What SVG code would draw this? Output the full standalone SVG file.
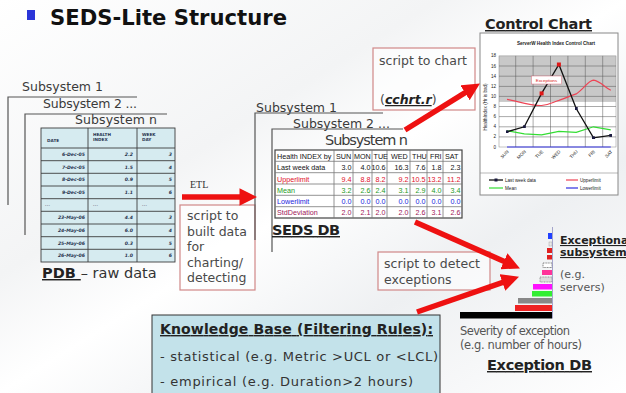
<svg xmlns="http://www.w3.org/2000/svg" width="626" height="393" viewBox="0 0 626 393">
<defs>
<linearGradient id="bg" x1="0" y1="0" x2="1" y2="1">
<stop offset="0" stop-color="#ffffff"/>
<stop offset="0.35" stop-color="#f3f4f5"/>
<stop offset="0.5" stop-color="#ffffff"/>
<stop offset="0.7" stop-color="#eef0f2"/>
<stop offset="1" stop-color="#ffffff"/>
</linearGradient>
<marker id="ah" viewBox="0 0 10 10" refX="2" refY="5" markerWidth="3.2" markerHeight="3.2" orient="auto" markerUnits="strokeWidth">
<path d="M0,0 L10,5 L0,10 z" fill="#ee1111"/>
</marker>
<marker id="mk" viewBox="0 0 10 10" refX="5" refY="5" markerWidth="3" markerHeight="3" markerUnits="userSpaceOnUse">
<rect x="0" y="0" width="10" height="10" fill="#1a1a40"/>
</marker>
</defs>
<style>
text{font-family:"DejaVu Sans",Verdana,sans-serif;fill:#333}
.sub{font-size:12.5px;fill:#3a3a3a}
.frame{fill:none;stroke:#555;stroke-width:1.2}
.box{fill:#fff;fill-opacity:0.6;stroke:#d08888;stroke-width:1.2}
.bt{font-size:12.5px;fill:#4a4a4a}
.hd{font-weight:bold;text-decoration:underline;fill:#222}
.arr{stroke:#ee1111;stroke-width:5.5;fill:none;marker-end:url(#ah)}
.pc{fill:#d6ebf0;stroke:#3c3c3c;stroke-width:0.9}
.pv{font-size:4.6px;font-weight:bold;font-style:italic;fill:#2a3550}
.ph{font-size:4.2px;font-weight:bold;fill:#2a3550}
.sc{fill:#fff;stroke:#777;stroke-width:0.8}
.sv{font-family:"Liberation Sans",Arial,sans-serif;font-size:7.2px;text-anchor:end;fill:#111}
.sl{font-family:"Liberation Sans",Arial,sans-serif;font-size:7.2px;fill:#111}
.ct{font-family:"Liberation Sans",Arial,sans-serif;font-size:4.6px;fill:#222}
.grid{stroke:#555;stroke-width:0.5}
.gt{font-size:11.5px;fill:#555}
</style>
<rect width="626" height="393" fill="url(#bg)"/>

<g id="title">
<rect x="27" y="10" width="8" height="10" fill="#2b35d8"/>
<text x="50" y="25" font-size="21" font-weight="bold" style="fill:#111" textLength="237" lengthAdjust="spacingAndGlyphs">SEDS-Lite Structure</text>
</g>

<g id="pdb">
<text class="sub" x="22" y="91" textLength="81">Subsystem 1</text>
<path class="frame" d="M8,205 V97 H137"/>
<text class="sub" x="43" y="108" textLength="94">Subsystem 2 ...</text>
<path class="frame" d="M25,235 V114 H167"/>
<text class="sub" x="75" y="124" textLength="82">Subsystem n</text>
<g id="pdb-table">
<rect class="pc" x="41" y="128" width="134" height="134"/>
<path d="M88,128 V262 M137,128 V262 M41,148 H175 M41,160.7 H175 M41,173.3 H175 M41,186 H175 M41,198.7 H175 M41,211.3 H175 M41,224 H175 M41,236.7 H175 M41,249.3 H175" stroke="#3c3c3c" stroke-width="0.9"/>
<text class="ph" x="47" y="142">DATE</text>
<text class="ph" x="93" y="136">HEALTH</text>
<text class="ph" x="93" y="141">INDEX</text>
<text class="ph" x="142" y="136">WEEK</text>
<text class="ph" x="142" y="141">DAY</text>
<g text-anchor="end">
<text class="pv" x="85" y="156">6-Dec-05</text><text class="pv" x="133" y="156">2.2</text><text class="pv" x="172" y="156">3</text>
<text class="pv" x="85" y="168.7">7-Dec-05</text><text class="pv" x="133" y="168.7">1.5</text><text class="pv" x="172" y="168.7">4</text>
<text class="pv" x="85" y="181.3">8-Dec-05</text><text class="pv" x="133" y="181.3">0.9</text><text class="pv" x="172" y="181.3">5</text>
<text class="pv" x="85" y="194">9-Dec-05</text><text class="pv" x="133" y="194">1.1</text><text class="pv" x="172" y="194">6</text>
<text class="pv" x="85" y="219.3">23-May-06</text><text class="pv" x="133" y="219.3">4.4</text><text class="pv" x="172" y="219.3">3</text>
<text class="pv" x="85" y="232">24-May-06</text><text class="pv" x="133" y="232">6.0</text><text class="pv" x="172" y="232">4</text>
<text class="pv" x="85" y="244.7">25-May-06</text><text class="pv" x="133" y="244.7">0.3</text><text class="pv" x="172" y="244.7">5</text>
<text class="pv" x="85" y="257.3">26-May-06</text><text class="pv" x="133" y="257.3">1.0</text><text class="pv" x="172" y="257.3">6</text>
</g>
<text class="pv" x="45" y="206" style="fill:#889">...</text>
<text class="pv" x="93" y="206" style="fill:#889">...</text>
<text class="pv" x="142" y="206" style="fill:#889">...</text>
</g>
<text x="42" y="278" font-size="14.5"><tspan class="hd" font-weight="bold">PDB </tspan><tspan fill="#333"> – raw data</tspan></text>
</g>

<g id="etl-script">
<text x="190" y="188" font-size="10" style="font-family:'Liberation Serif',serif;fill:#333">ETL</text>
<rect class="box" x="180" y="205" width="75" height="85"/>
<text class="bt" x="187" y="220">script to</text>
<text class="bt" x="187" y="235.5">built data</text>
<text class="bt" x="187" y="251">for</text>
<text class="bt" x="187" y="266.5">charting/</text>
<text class="bt" x="187" y="282">detecting</text>
</g>

<g id="seds">
<text class="sub" x="256" y="112" textLength="81">Subsystem 1</text>
<path class="frame" d="M255,240 V113 H383"/>
<text class="sub" x="293" y="128" textLength="97">Subsystem 2 ...</text>
<path class="frame" d="M272,252 V129 H403"/>
<text x="325" y="145" font-size="14.5" style="fill:#3a3a3a" textLength="83">Subsystem n</text>
<g id="seds-table">
<rect x="275" y="150" width="187" height="68" style="fill:#fff;stroke:#444;stroke-width:1.2"/>
<path d="M334,150 V218 M353,150 V218 M372,150 V218 M387,150 V218 M410,150 V218 M427,150 V218 M443,150 V218 M275,161.3 H462 M275,172.7 H462 M275,184 H462 M275,195.3 H462 M275,206.7 H462" stroke="#777" stroke-width="0.8"/>
<text class="sl" x="277" y="158.8">Health INDEX by</text>
<text class="sl" x="336" y="158.8">SUN</text><text class="sl" x="354" y="158.8">MON</text><text class="sl" x="373.5" y="158.8">TUE</text><text class="sl" x="391" y="158.8">WED</text><text class="sl" x="412" y="158.8">THU</text><text class="sl" x="430" y="158.8">FRI</text><text class="sl" x="445" y="158.8">SAT</text>
<text class="sl" x="277" y="170.2">Last week data</text>
<text class="sv" x="351.5" y="170.2">3.0</text><text class="sv" x="370.5" y="170.2">4.0</text><text class="sv" x="385.5" y="170.2">10.6</text><text class="sv" x="408.5" y="170.2">16.3</text><text class="sv" x="425.5" y="170.2">7.6</text><text class="sv" x="441.5" y="170.2">1.8</text><text class="sv" x="460.5" y="170.2">2.3</text>
<text class="sl" x="277" y="181.5" style="fill:#e0102a">Upperlimit</text>
<text class="sv" x="351.5" y="181.5" style="fill:#e0102a">9.4</text><text class="sv" x="370.5" y="181.5" style="fill:#e0102a">8.8</text><text class="sv" x="385.5" y="181.5" style="fill:#e0102a">8.2</text><text class="sv" x="408.5" y="181.5" style="fill:#e0102a">9.2</text><text class="sv" x="425.5" y="181.5" style="fill:#e0102a">10.5</text><text class="sv" x="441.5" y="181.5" style="fill:#e0102a">13.2</text><text class="sv" x="460.5" y="181.5" style="fill:#e0102a">11.2</text>
<text class="sl" x="277" y="192.8" style="fill:#1e9a1e">Mean</text>
<text class="sv" x="351.5" y="192.8" style="fill:#1e9a1e">3.2</text><text class="sv" x="370.5" y="192.8" style="fill:#1e9a1e">2.6</text><text class="sv" x="385.5" y="192.8" style="fill:#1e9a1e">2.4</text><text class="sv" x="408.5" y="192.8" style="fill:#1e9a1e">3.1</text><text class="sv" x="425.5" y="192.8" style="fill:#1e9a1e">2.9</text><text class="sv" x="441.5" y="192.8" style="fill:#1e9a1e">4.0</text><text class="sv" x="460.5" y="192.8" style="fill:#1e9a1e">3.4</text>
<text class="sl" x="277" y="204.1" style="fill:#2222dd">Lowerlimit</text>
<text class="sv" x="351.5" y="204.1" style="fill:#2222dd">0.0</text><text class="sv" x="370.5" y="204.1" style="fill:#2222dd">0.0</text><text class="sv" x="385.5" y="204.1" style="fill:#2222dd">0.0</text><text class="sv" x="408.5" y="204.1" style="fill:#2222dd">0.0</text><text class="sv" x="425.5" y="204.1" style="fill:#2222dd">0.0</text><text class="sv" x="441.5" y="204.1" style="fill:#2222dd">0.0</text><text class="sv" x="460.5" y="204.1" style="fill:#2222dd">0.0</text>
<text class="sl" x="277" y="215.4" style="fill:#a0185a">StdDeviation</text>
<text class="sv" x="351.5" y="215.4" style="fill:#a0185a">2.0</text><text class="sv" x="370.5" y="215.4" style="fill:#a0185a">2.1</text><text class="sv" x="385.5" y="215.4" style="fill:#a0185a">2.0</text><text class="sv" x="408.5" y="215.4" style="fill:#a0185a">2.0</text><text class="sv" x="425.5" y="215.4" style="fill:#a0185a">2.6</text><text class="sv" x="441.5" y="215.4" style="fill:#a0185a">3.1</text><text class="sv" x="460.5" y="215.4" style="fill:#a0185a">2.6</text>
</g>
<text class="hd" x="272" y="235" font-size="14.5" textLength="68">SEDS DB</text>
</g>

<g id="chart-script">
<rect class="box" x="373" y="48" width="102" height="62"/>
<text class="bt" x="379" y="65" textLength="88">script to chart</text>
<text class="bt" x="380" y="104">(<tspan font-weight="bold" font-style="italic" text-decoration="underline" fill="#222">cchrt.r</tspan>)</text>
</g>

<g id="control-chart">
<text class="hd" x="485" y="29" font-size="14.5" textLength="107">Control Chart</text>
<rect x="480" y="33" width="138" height="162" fill="#fff" stroke="#888" stroke-width="1"/>
<text class="ct" x="556" y="44.5" text-anchor="middle" style="font-weight:bold">ServerW Health Index Control Chart</text>
<rect x="499" y="55.9" width="117" height="46" fill="#c8c8c8"/>
<rect x="499" y="55.9" width="117" height="91.1" fill="none" stroke="#888" stroke-width="0.5"/>
<path class="grid" d="M499,66 H616 M499,76.2 H616 M499,86.4 H616 M499,96.4 H616 M499,106.5 H616 M499,116.6 H616 M499,126.8 H616 M499,136.9 H616 M515.7,55.9 V147 M533.1,55.9 V147 M550.5,55.9 V147 M567.9,55.9 V147 M585.3,55.9 V147 M602.7,55.9 V147"/>
<g text-anchor="end">
<text class="ct" x="496" y="148.5">0</text><text class="ct" x="496" y="138.4">2</text><text class="ct" x="496" y="128.3">4</text><text class="ct" x="496" y="118.1">6</text><text class="ct" x="496" y="108">8</text><text class="ct" x="496" y="97.9">10</text><text class="ct" x="496" y="87.9">12</text><text class="ct" x="496" y="77.7">14</text><text class="ct" x="496" y="67.5">16</text><text class="ct" x="496" y="57.4">18</text>
</g>
<text class="ct" transform="translate(487,107) rotate(-90)" text-anchor="middle">HealthIndex (Hr is bad)</text>
<polyline points="507,147 610.8,147" fill="none" stroke="#3030e0" stroke-width="1.2"/>
<polyline points="507,130.8 524.3,133.8 541.6,134.9 558.9,131.3 576.2,132.3 593.5,126.8 610.8,129.8" fill="none" stroke="#33dd33" stroke-width="1.2"/>
<path d="M507,99.4 C515,100.5 530,105.8 541.6,105.5 C550,104.5 552,102.5 558.9,100.4 C566,98 570,96 576.2,93.9 C584,89 588,80.5 593.5,80.2 C600,81 605,87.5 610.8,90.3" fill="none" stroke="#ee4455" stroke-width="1.2"/>
<polyline points="507,131.8 524.3,126.8 541.6,93.4 558.9,64.5 576.2,108.5 593.5,137.9 610.8,135.4" fill="none" stroke="#111" stroke-width="1.3" marker-start="url(#mk)" marker-mid="url(#mk)" marker-end="url(#mk)"/>
<rect x="539.6" y="91.4" width="4" height="4" fill="#e01818"/>
<rect x="556.9" y="62.5" width="4" height="4" fill="#e01818"/>
<rect x="531.5" y="76" width="30" height="8" fill="#fff" stroke="#e07080" stroke-width="0.5"/>
<text class="ct" x="546.5" y="81.6" text-anchor="middle" style="fill:#e01818;font-size:4.4px">Exceptions</text>
<text class="ct" transform="translate(509,152) rotate(-45)" text-anchor="end">SUN</text>
<text class="ct" transform="translate(526.3,152) rotate(-45)" text-anchor="end">MON</text>
<text class="ct" transform="translate(543.6,152) rotate(-45)" text-anchor="end">TUE</text>
<text class="ct" transform="translate(560.9,152) rotate(-45)" text-anchor="end">WED</text>
<text class="ct" transform="translate(578.2,152) rotate(-45)" text-anchor="end">THU</text>
<text class="ct" transform="translate(595.5,152) rotate(-45)" text-anchor="end">FRI</text>
<text class="ct" transform="translate(612.8,152) rotate(-45)" text-anchor="end">SAT</text>
<line x1="480" y1="173" x2="618" y2="173" stroke="#888" stroke-width="0.6"/>
<line x1="489" y1="180" x2="503" y2="180" stroke="#111" stroke-width="1.3"/>
<rect x="494.5" y="178.5" width="3" height="3" fill="#1a1a40"/>
<text class="ct" x="505" y="181.6">Last week data</text>
<line x1="566" y1="180" x2="578" y2="180" stroke="#ee4455" stroke-width="1.2"/>
<text class="ct" x="580" y="181.6">Upperlimit</text>
<line x1="489" y1="188" x2="503" y2="188" stroke="#33dd33" stroke-width="1.2"/>
<text class="ct" x="505" y="189.6">Mean</text>
<line x1="566" y1="188" x2="578" y2="188" stroke="#3030e0" stroke-width="1.2"/>
<text class="ct" x="580" y="189.6">Lowerlimit</text>
</g>

<g id="exception-script">
<rect class="box" x="378" y="252" width="112" height="38"/>
<text class="bt" x="384" y="268" textLength="96">script to detect</text>
<text class="bt" x="384" y="284">exceptions</text>
</g>

<g id="exception-db">
<rect x="548" y="233" width="4" height="6" fill="#2040ff"/>
<rect x="549" y="242" width="3" height="4" fill="#e8e8e8" stroke="#999" stroke-width="0.4"/>
<rect x="547" y="248" width="5" height="5" fill="#e02020"/>
<rect x="547" y="255" width="5" height="4.5" fill="#e02020"/>
<rect x="543" y="263" width="9" height="4.5" fill="#fff" stroke="#333" stroke-width="0.6" stroke-dasharray="1,0.6"/>
<rect x="542" y="270" width="10" height="5" fill="#ff3399"/>
<rect x="540" y="277" width="12" height="5" fill="#ddd" stroke="#666" stroke-width="0.6" stroke-dasharray="1,0.6"/>
<rect x="533" y="284" width="19" height="5.5" fill="#ff10ff"/>
<rect x="532" y="291" width="20" height="5.5" fill="#33ee33"/>
<rect x="518" y="298" width="34" height="5.5" fill="#888"/>
<rect x="515" y="305" width="37" height="6" fill="#ee2222"/>
<rect x="460" y="312" width="92" height="6.5" fill="#000"/>
<line x1="552.5" y1="227" x2="552.5" y2="318.5" stroke="#9090c0" stroke-width="0.8"/>
<text x="560" y="244" font-size="11" font-weight="bold" text-decoration="underline" style="fill:#222">Exceptional</text>
<text x="560" y="256" font-size="11" font-weight="bold" text-decoration="underline" style="fill:#222">subsystems</text>
<text class="gt" x="560" y="278" style="font-size:11px">(e.g.</text>
<text class="gt" x="560" y="291" style="font-size:11px">servers)</text>
<text class="gt" x="460" y="335" textLength="110">Severity of exception</text>
<text class="gt" x="460" y="349" textLength="122">(e.g. number of hours)</text>
<text class="hd" x="487" y="370" font-size="14.5" textLength="105">Exception DB</text>
</g>

<g id="knowledge-base">
<rect x="152" y="315" width="288" height="82" fill="#c3e2ea" stroke="#333" stroke-width="1"/>
<text class="hd" x="160" y="334" font-size="14" textLength="273">Knowledge Base (Filtering Rules):</text>
<text x="160" y="361" font-size="13" textLength="278" style="fill:#333">- statistical (e.g. Metric &gt;UCL or &lt;LCL)</text>
<text x="160" y="386" font-size="13" textLength="253" style="fill:#333">- empirical (e.g. Duration&gt;2 hours)</text>
</g>

<g id="connectors">
<line class="arr" x1="182" y1="197" x2="243" y2="197"/>
<line class="arr" x1="405" y1="130" x2="468" y2="90.9"/>
<line class="arr" x1="415" y1="222" x2="507.1" y2="262.7"/>
<line class="arr" x1="417" y1="312" x2="505.7" y2="281.3"/>
</g>
</svg>
